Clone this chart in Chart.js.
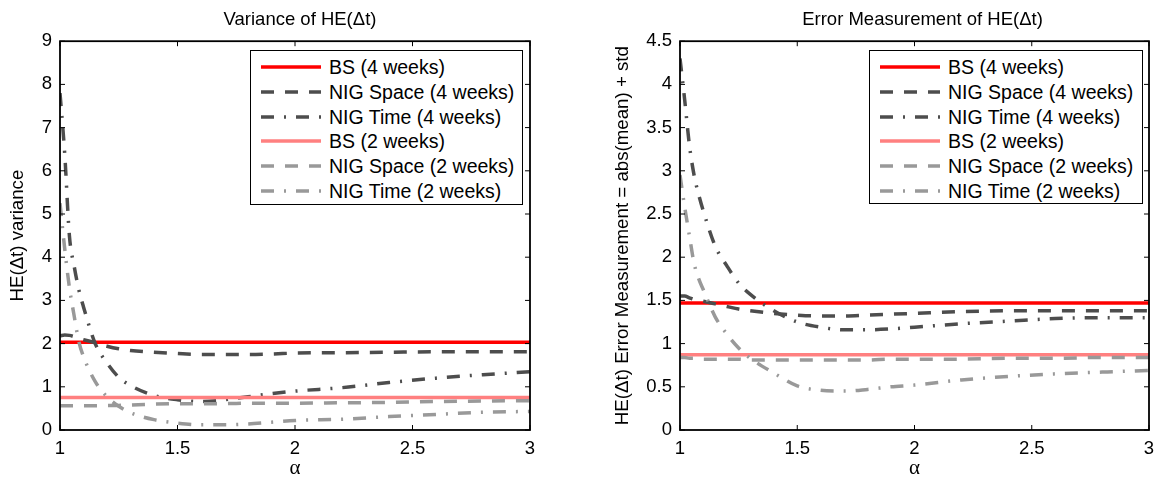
<!DOCTYPE html>
<html>
<head>
<meta charset="utf-8">
<script src="https://cdn.jsdelivr.net/npm/chart.js@4.4.1/dist/chart.umd.min.js"></script>
<style>
body { margin: 0; background: #fff; }
#wrap { position: relative; width: 1156px; height: 479px; overflow: hidden; background: #fff; }
.holder { position: absolute; top: 0; height: 479px; }
.legend { position: absolute; border: 1px solid #000; background: #fff; box-sizing: border-box;
  font-family: "Liberation Sans", Arial, sans-serif; font-size: 19.5px; color: #000; }
.legend .row { position: absolute; left: 0; height: 24px; line-height: 24px; white-space: nowrap; }
.legend svg { position: absolute; top: 0; }
.legend span { position: absolute; top: 0; }
</style>
</head>
<body>
<div id="wrap">
  <div class="holder" style="left:0;width:600px"><canvas id="varChart"></canvas></div>
  <div class="holder" style="left:578px;width:689px"><canvas id="errChart"></canvas></div>
  <div class="legend" id="varLegend" style="left:250px;top:50px;width:273px;height:155px"></div>
  <div class="legend" id="errLegend" style="left:869px;top:50px;width:274px;height:154px"></div>
</div>
<script>
// alpha grid used by the NIG curves
var alpha = [1, 1.02, 1.04, 1.06, 1.08, 1.1, 1.15, 1.2, 1.25, 1.3, 1.4, 1.5, 1.6, 1.7, 1.8, 1.9, 2.0, 2.2, 2.4, 2.6, 2.8, 3.0];
var bsAlpha = [1, 3];

var labels = ['BS (4 weeks)', 'NIG Space (4 weeks)', 'NIG Time (4 weeks)', 'BS (2 weeks)', 'NIG Space (2 weeks)', 'NIG Time (2 weeks)'];

// Variance of HE(dt)
var varBS4 = [2.03, 2.03];
var varNigSpace4 = [2.18, 2.2, 2.19, 2.16, 2.12, 2.09, 2.02, 1.94, 1.88, 1.84, 1.8, 1.77, 1.75, 1.75, 1.75, 1.76, 1.78, 1.79, 1.8, 1.81, 1.81, 1.81];
var varNigTime4 = [7.8, 6.4, 4.5, 3.8, 3.25, 2.85, 2.0, 1.55, 1.22, 1.03, 0.8, 0.7, 0.66, 0.7, 0.77, 0.84, 0.9, 0.98, 1.1, 1.2, 1.28, 1.35];
var varBS2 = [0.75, 0.75];
var varNigSpace2 = [0.56, 0.56, 0.56, 0.56, 0.56, 0.56, 0.56, 0.57, 0.57, 0.58, 0.6, 0.61, 0.61, 0.61, 0.62, 0.62, 0.62, 0.63, 0.64, 0.66, 0.67, 0.68];
var varNigTime2 = [5.25, 4.2, 3.3, 2.65, 2.05, 1.7, 1.12, 0.77, 0.55, 0.4, 0.24, 0.16, 0.12, 0.12, 0.14, 0.18, 0.22, 0.25, 0.31, 0.36, 0.41, 0.43];

// Error measurement of HE(dt)
var errBS4 = [1.47, 1.47];
var errNigSpace4 = [1.55, 1.55, 1.53, 1.51, 1.5, 1.49, 1.46, 1.43, 1.4, 1.38, 1.35, 1.33, 1.32, 1.32, 1.33, 1.34, 1.35, 1.37, 1.38, 1.38, 1.38, 1.38];
var errNigTime4 = [4.3, 3.82, 3.3, 2.95, 2.72, 2.53, 2.13, 1.9, 1.7, 1.57, 1.38, 1.25, 1.19, 1.16, 1.16, 1.17, 1.19, 1.23, 1.26, 1.29, 1.3, 1.3];
var errBS2 = [0.87, 0.87];
var errNigSpace2 = [0.84, 0.84, 0.83, 0.83, 0.83, 0.82, 0.82, 0.82, 0.82, 0.81, 0.81, 0.81, 0.81, 0.81, 0.81, 0.82, 0.82, 0.82, 0.83, 0.83, 0.84, 0.84];
var errNigTime2 = [2.95, 2.58, 2.25, 1.93, 1.75, 1.62, 1.31, 1.11, 0.95, 0.83, 0.66, 0.51, 0.46, 0.45, 0.47, 0.5, 0.52, 0.58, 0.62, 0.65, 0.67, 0.69];

var styles = [
  { color: '#ff0000', dash: [] },
  { color: '#4d4d4d', dash: [13, 11] },
  { color: '#4d4d4d', dash: [13, 10, 2, 10] },
  { color: '#ff8080', dash: [] },
  { color: '#999999', dash: [13, 11] },
  { color: '#999999', dash: [13, 10, 2, 10] }
];

var sans = '"Liberation Sans", Arial, sans-serif';

function toPoints(xs, ys) {
  return xs.map(function(x, i) { return { x: x, y: ys[i] }; });
}

function plainNumber(value) {
  return String(value);
}

function makeDatasets(series) {
  return series.map(function(s, i) {
    return {
      label: labels[i],
      data: toPoints(s.length == 2 ? bsAlpha : alpha, s),
      borderColor: styles[i].color,
      borderDash: styles[i].dash,
      borderWidth: 3.5,
      pointRadius: 0,
      fill: false,
      cubicInterpolationMode: 'monotone',
      order: 6 - i
    };
  });
}

// box round the plot and inward tick marks on all four sides
var frameTicks = {
  id: 'frameTicks',
  afterDatasetsDraw: function(chart) {
    var ctx = chart.ctx, a = chart.chartArea;
    var xs = chart.scales.x, ys = chart.scales.y;
    ctx.save();
    ctx.strokeStyle = '#000';
    ctx.lineWidth = 1;
    ctx.beginPath();
    xs.ticks.forEach(function(t) {
      var px = xs.getPixelForValue(t.value);
      ctx.moveTo(px, a.bottom); ctx.lineTo(px, a.bottom - 5);
      ctx.moveTo(px, a.top); ctx.lineTo(px, a.top + 5);
    });
    ys.ticks.forEach(function(t) {
      var py = ys.getPixelForValue(t.value);
      ctx.moveTo(a.left, py); ctx.lineTo(a.left + 5, py);
      ctx.moveTo(a.right, py); ctx.lineTo(a.right - 5, py);
    });
    ctx.stroke();
    ctx.lineWidth = 1.8;
    ctx.strokeRect(a.left, a.top, a.right - a.left, a.bottom - a.top);
    ctx.restore();
  }
};

// rightGap: empty space right of the plot, kept by a blank right axis so the
// full-width title stays centred where the reference has it
function buildChart(id, series, title, yTitle, yMax, yStep, yWidth, yTitlePad, rightGap) {
  return new Chart(document.getElementById(id), {
    type: 'line',
    data: { datasets: makeDatasets(series) },
    options: {
      responsive: false,
      animation: false,
      layout: { padding: 0 },
      plugins: {
        legend: { display: false },
        tooltip: { enabled: false },
        title: {
          display: true, text: title, color: '#000',
          font: { family: sans, size: 18.5, weight: 'normal', lineHeight: 1.2 },
          padding: { top: 9, bottom: 10 }
        }
      },
      scales: {
        x: {
          type: 'linear', min: 1, max: 3,
          grid: { display: false, drawTicks: false },
          border: { display: false },
          ticks: { stepSize: 0.5, color: '#000', padding: 8, font: { family: sans, size: 18.5 }, callback: plainNumber },
          title: { display: true, text: 'α', color: '#000', padding: { top: 0, bottom: 0 },
            font: { family: '"Liberation Serif", "Times New Roman", serif', size: 21, lineHeight: 1 } },
          afterFit: function(scale) { scale.height = 49; }
        },
        y: {
          min: 0, max: yMax,
          grid: { display: false, drawTicks: false },
          border: { display: false },
          ticks: { stepSize: yStep, color: '#000', padding: 8, font: { family: sans, size: 18.5 }, callback: plainNumber },
          title: { display: true, text: yTitle, color: '#000', padding: { top: yTitlePad, bottom: 0 },
            font: { family: sans, size: 18.7, lineHeight: 1 } },
          afterFit: function(scale) { scale.width = yWidth; }
        },
        gap: {
          type: 'linear', position: 'right', min: 0, max: 1,
          grid: { display: false, drawTicks: false },
          border: { display: false },
          ticks: { display: false },
          afterFit: function(scale) { scale.width = rightGap; }
        }
      }
    },
    plugins: [frameTicks]
  });
}

function buildLegend(id) {
  var box = document.getElementById(id);
  labels.forEach(function(name, i) {
    var row = document.createElement('div');
    row.className = 'row';
    row.style.top = (4 + i * 24.8) + 'px';
    row.style.width = '100%';
    var svg = '<svg width="80" height="24" style="left:0"><line x1="10" y1="12" x2="70" y2="12" stroke="' +
      styles[i].color + '" stroke-width="3.5" stroke-dasharray="' + (styles[i].dash.join(' ') || 'none') + '"/></svg>';
    row.innerHTML = svg + '<span style="left:78px">' + name + '</span>';
    box.appendChild(row);
  });
}

var varCanvas = document.getElementById('varChart');
varCanvas.width = 600; varCanvas.height = 479;
var errCanvas = document.getElementById('errChart');
errCanvas.width = 689; errCanvas.height = 479;

buildChart('varChart', [varBS4, varNigSpace4, varNigTime4, varBS2, varNigSpace2, varNigTime2],
  'Variance of HE(Δt)', 'HE(Δt) variance', 9, 1, 60, 9, 70);
buildChart('errChart', [errBS4, errNigSpace4, errNigTime4, errBS2, errNigSpace2, errNigTime2],
  'Error Measurement of HE(Δt)', 'HE(Δt) Error Measurement = abs(mean) + std', 4.5, 0.5, 102, 36, 118);

buildLegend('varLegend');
buildLegend('errLegend');
</script>
</body>
</html>
